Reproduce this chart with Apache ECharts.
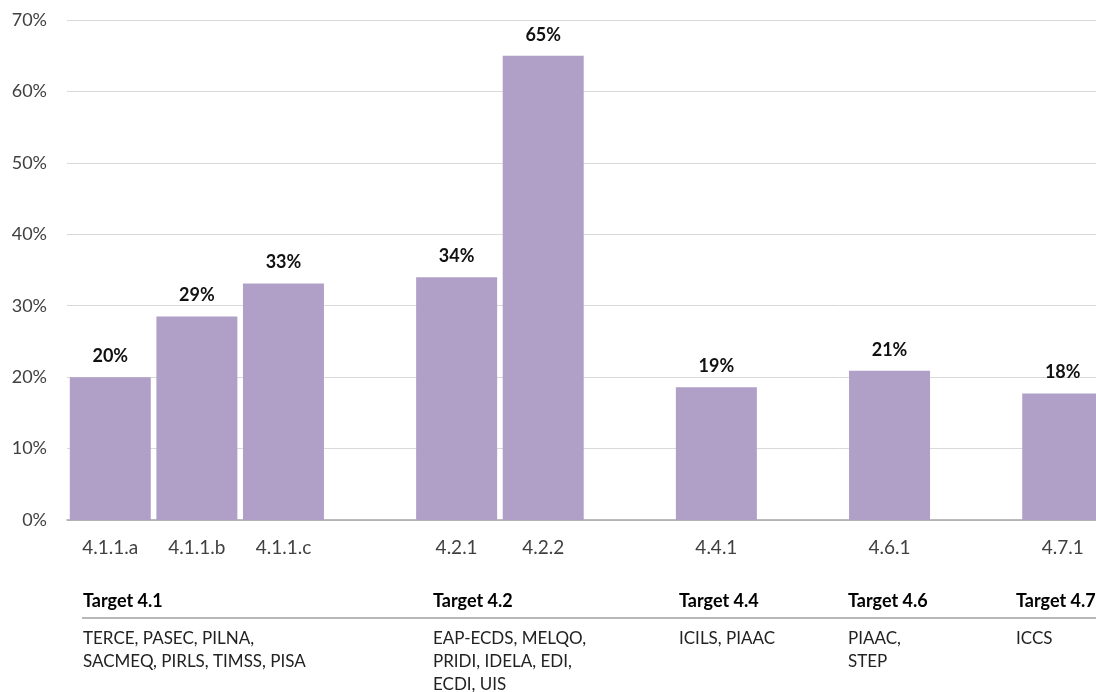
<!DOCTYPE html>
<html>
<head>
<meta charset="utf-8">
<script src="https://cdn.jsdelivr.net/npm/echarts@6/dist/echarts.min.js"></script>
<style>
  html, body { margin: 0; padding: 0; background: #fff; }
  #chart { width: 1096px; height: 692px; }
</style>
</head>
<body>
<div id="chart"></div>
<script>
// indicators, blank slots are the gaps between targets
const categories = ['4.1.1.a', '4.1.1.b', '4.1.1.c', '', '4.2.1', '4.2.2', '', '4.4.1', '', '4.6.1', '', '4.7.1']
const shares = [20, 28.5, 33.1, null, 34, 65, null, 18.6, null, 20.9, null, 17.7]
const yTicks = [0, 10, 20, 30, 40, 50, 60, 70]

const targetNames = ['Target 4.1', 'Target 4.2', 'Target 4.4', 'Target 4.6', 'Target 4.7']
const targetSurveys = [
  ['TERCE, PASEC, PILNA,', 'SACMEQ, PIRLS, TIMSS, PISA'],
  ['EAP-ECDS, MELQO,', 'PRIDI, IDELA, EDI,', 'ECDI, UIS'],
  ['ICILS, PIAAC'],
  ['PIAAC,', 'STEP'],
  ['ICCS']
]
const targetX = [83, 433, 679, 848, 1016]

const font = 'Lato, "Open Sans", sans-serif'
const chart = echarts.init(document.getElementById('chart'))

const tableGraphics = []
targetNames.forEach((name, i) => {
  tableGraphics.push({
    type: 'text', left: targetX[i], top: 592,
    style: { text: name, font: 'bold 18px ' + font, fill: '#000' }
  })
  tableGraphics.push({
    type: 'text', left: targetX[i], top: 627,
    style: { text: targetSurveys[i].join('\n'), font: '17px ' + font, fill: '#222', lineHeight: 23 }
  })
})
tableGraphics.push({
  type: 'line', shape: { x1: 82, y1: 618, x2: 1096, y2: 618 },
  style: { stroke: '#a0a0a0', lineWidth: 1.5 }
})

chart.setOption({
  animation: false,
  // plot runs past the right edge, last bar is cut off
  grid: { left: 67, width: 1039, top: 20, bottom: 172, containLabel: false, outerBoundsMode: 'none' },
  xAxis: {
    type: 'category',
    data: categories,
    axisTick: { show: false },
    axisLine: { lineStyle: { color: '#a6a6a6', width: 1.5 } },
    axisLabel: { interval: 0, margin: 18, fontSize: 19, color: '#404040', fontFamily: font }
  },
  yAxis: {
    type: 'value',
    min: yTicks[0],
    max: yTicks[yTicks.length - 1],
    interval: 10,
    axisLine: { show: false },
    axisTick: { show: false },
    splitLine: { lineStyle: { color: '#d9d9d9', width: 1 } },
    axisLabel: { margin: 20, fontSize: 18, color: '#404040', fontFamily: font, formatter: '{value}%' }
  },
  series: [{
    type: 'bar',
    data: shares,
    barWidth: 81,
    itemStyle: { color: '#b0a0c8' },
    label: {
      show: true,
      position: 'top',
      distance: 12,
      fontSize: 18,
      fontWeight: 'bold',
      color: '#111',
      fontFamily: font,
      formatter: (p) => Math.round(p.value) + '%'
    }
  }],
  graphic: tableGraphics
})
</script>
</body>
</html>
